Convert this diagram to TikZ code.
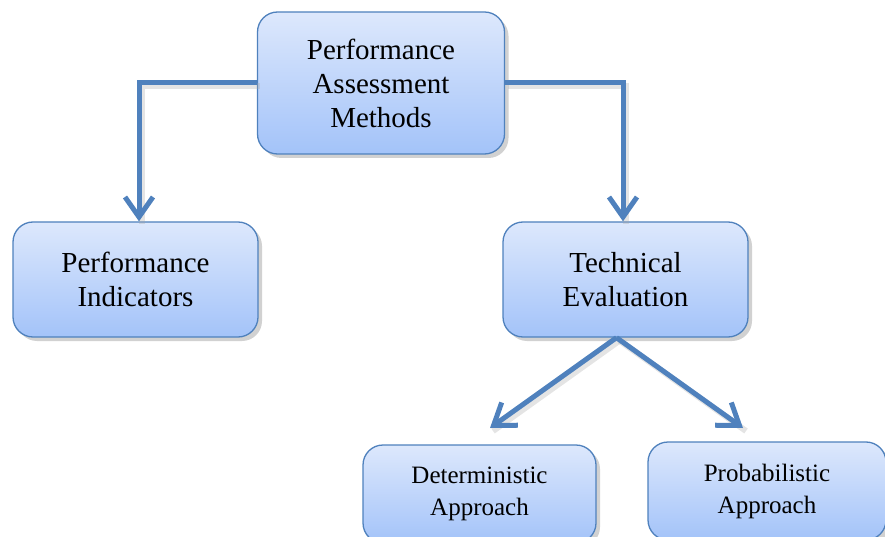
\documentclass[tikz,border=0pt]{standalone}
\usepackage{fontspec}
\setmainfont{Liberation Serif}
\newfontfamily\tnr{Liberation Serif}
\usetikzlibrary{arrows.meta,shadows}
\definecolor{lineblue}{HTML}{4F81BD}
\definecolor{boxtop}{HTML}{DDE8FC}
\definecolor{boxbot}{HTML}{A3C3F9}
\begin{document}
\begin{tikzpicture}[x=1pt,y=-1pt,
  box/.style={draw=lineblue, line width=1.3pt, rounded corners=20pt,
    top color=boxtop, bottom color=boxbot, align=center,
    drop shadow={shadow xshift=4pt, shadow yshift=-4pt, fill=black!45, opacity=0.4}},
  bigtext/.style={font=\tnr\fontsize{29}{34}\selectfont},
  smalltext/.style={font=\tnr\fontsize{25}{32}\selectfont},
  conn/.style={draw=lineblue, line width=5pt,
    -{Straight Barb[length=20pt,width=28pt,line width=5pt]},
    preaction={draw=black!35, opacity=0.3, line width=6pt, transform canvas={shift={(3pt,-3pt)}}, -}}
]
\useasboundingbox (0,0) rectangle (885,537);
\begin{scope}
\clip (0,0) rectangle (885,537);
\node[box,bigtext,minimum width=247pt,minimum height=142pt] (top) at (381,83) {Performance\\Assessment\\Methods};
\node[box,bigtext,minimum width=245pt,minimum height=115pt] (pi) at (135.5,279.5) {Performance\\Indicators};
\node[box,bigtext,minimum width=245pt,minimum height=115pt] (te) at (625.5,279.5) {Technical\\Evaluation};
\node[box,smalltext,minimum width=233pt,minimum height=98pt] (da) at (479.5,494) {Deterministic\\Approach};
\node[box,smalltext,minimum width=238pt,minimum height=98pt] (pa) at (767,491) {Probabilistic\\Approach};
\end{scope}
\coordinate (dtip) at (490,428);
\coordinate (ptip) at (743,428);
\coordinate (lc) at (139,83);
\coordinate (rc) at (623,83);
\draw[conn] (top.west |- lc) -- (lc) -- (lc |- pi.north);
\draw[conn] (top.east |- rc) -- (rc) -- (rc |- te.north);
\draw[conn] ([xshift=-9pt]te.south) -- (dtip);
\draw[conn] ([xshift=-9pt]te.south) -- (ptip);
\end{tikzpicture}
\end{document}
